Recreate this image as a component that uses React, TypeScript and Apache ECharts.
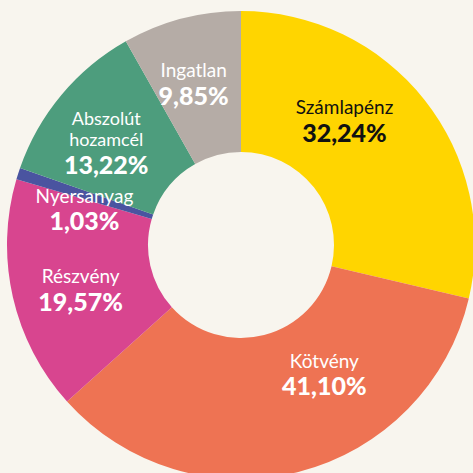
import React, { useEffect, useRef } from "react";
import * as echarts from "echarts";

const categories = ["Számlapénz", "Kötvény", "Részvény", "Nyersanyag", "Abszolút\nhozamcél", "Ingatlan"];
const percentLabels = ["32,24%", "41,10%", "19,57%", "1,03%", "13,22%", "9,85%"];
const shares = [28.67, 34.67, 16.19, 0.81, 11.47, 8.19];
const colors = ["#FFD500", "#EE7353", "#D8458F", "#4A54A0", "#4D9D7D", "#B5ACA6"];
const textColors = ["#111111", "#ffffff", "#ffffff", "#ffffff", "#ffffff", "#ffffff"];
const labelShift = [
  [-27, -20],
  [42, -31],
  [2, 9],
  [2, 16],
  [-7, 5],
  [-5, 1],
];

export default function App() {
  const ref = useRef<HTMLDivElement>(null);
  useEffect(() => {
    if (!ref.current) return;
    const chart = echarts.init(ref.current, null, { renderer: "svg" });
    const data = categories.map((name, i) => {
      const multi = name.includes("\n");
      return {
        name,
        value: shares[i],
        itemStyle: { color: colors[i] },
        label: {
          formatter: `{n|${name.split("\n").join("}\n{n|")}}\n{v|${percentLabels[i]}}`,
          rich: {
            n: {
              fontSize: multi ? 18 : 19,
              color: textColors[i],
              fontFamily: "Lato",
              lineHeight: multi ? 21 : 20,
            },
            v: { fontSize: 25, fontWeight: 900, color: textColors[i], fontFamily: "Lato", lineHeight: 30 },
          },
        },
      };
    });
    chart.setOption({
      animation: false,
      backgroundColor: "#F8F5EE",
      series: [
        {
          type: "pie",
          center: [241, 245],
          radius: [93, 234],
          startAngle: 90,
          clockwise: true,
          avoidLabelOverlap: false,
          label: { show: true, position: "inside", align: "center" },
          labelLine: { show: false },
          labelLayout: (p: any) => ({ dx: labelShift[p.dataIndex][0], dy: labelShift[p.dataIndex][1] }),
          emphasis: { disabled: true },
          data,
        },
      ],
    });
    return () => chart.dispose();
  }, []);
  return <div ref={ref} style={{ position: "fixed", left: 0, top: 0, width: 473, height: 473 }} />;
}
